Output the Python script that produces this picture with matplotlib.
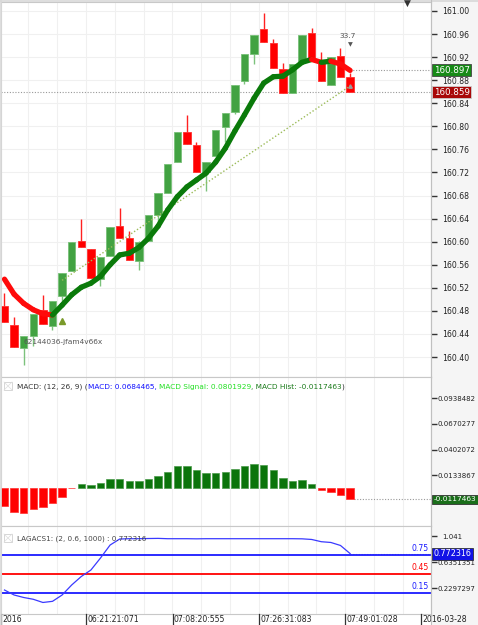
import matplotlib
matplotlib.use("Agg")
import matplotlib.pyplot as plt
import numpy as np
from matplotlib.patches import Rectangle
from matplotlib.lines import Line2D

W, H = 478, 625

# ---- data ----
opens = [160.489, 160.455, 160.415, 160.437, 160.481, 160.454, 160.506, 160.550,
         160.601, 160.587, 160.535, 160.575, 160.627, 160.606, 160.567, 160.602,
         160.646, 160.685, 160.738, 160.791, 160.768, 160.721, 160.749, 160.798,
         160.825, 160.879, 160.925, 160.968, 160.944, 160.899, 160.857, 160.911,
         160.962, 160.915, 160.872, 160.922, 160.885]
closes = [160.460, 160.417, 160.437, 160.474, 160.457, 160.498, 160.545, 160.599,
          160.590, 160.537, 160.574, 160.625, 160.607, 160.568, 160.599, 160.646,
          160.684, 160.734, 160.790, 160.769, 160.721, 160.739, 160.794, 160.823,
          160.872, 160.925, 160.959, 160.946, 160.901, 160.858, 160.908, 160.959,
          160.918, 160.879, 160.921, 160.885, 160.859]
highs = [160.511, 160.469, 160.437, 160.474, 160.508, 160.498, 160.545, 160.599,
         160.640, 160.587, 160.574, 160.625, 160.659, 160.619, 160.601, 160.646,
         160.684, 160.734, 160.790, 160.820, 160.772, 160.739, 160.794, 160.823,
         160.872, 160.925, 160.959, 160.997, 160.951, 160.910, 160.908, 160.959,
         160.971, 160.929, 160.921, 160.935, 160.893]
lows = [160.460, 160.417, 160.386, 160.420, 160.457, 160.447, 160.493, 160.550,
        160.590, 160.537, 160.523, 160.575, 160.607, 160.568, 160.551, 160.602,
        160.633, 160.685, 160.738, 160.769, 160.721, 160.688, 160.749, 160.773,
        160.821, 160.873, 160.908, 160.946, 160.901, 160.858, 160.857, 160.911,
        160.918, 160.879, 160.872, 160.885, 160.859]
ma = [160.535, 160.509, 160.493, 160.482, 160.475, 160.473, 160.490, 160.508,
      160.521, 160.528, 160.540, 160.560, 160.577, 160.580, 160.590, 160.606,
      160.627, 160.655, 160.678, 160.695, 160.707, 160.719, 160.738, 160.762,
      160.792, 160.820, 160.849, 160.875, 160.886, 160.887, 160.898, 160.911,
      160.916, 160.911, 160.913, 160.908, 160.897]
macd_hist = [-0.0187, -0.0246, -0.0257, -0.0215, -0.0201, -0.0152, -0.0090, 0.0,
             0.0043, 0.0032, 0.0053, 0.0092, 0.0099, 0.0074, 0.0074, 0.0099,
             0.0126, 0.0172, 0.0228, 0.0234, 0.0193, 0.0161, 0.0161, 0.0172,
             0.0200, 0.0234, 0.0252, 0.0241, 0.0193, 0.0106, 0.0071, 0.0085,
             0.0043, -0.0020, -0.0038, -0.0076, -0.0117463]
lagacs = [0.202, 0.124, 0.085, 0.057, 0.007, 0.025, 0.124, 0.281, 0.414, 0.515,
          0.703, 0.906, 1.000, 1.005, 1.005, 1.008, 1.010, 1.005, 1.005, 1.005,
          1.003, 1.005, 1.005, 1.005, 1.005, 1.005, 1.005, 1.005, 1.005, 1.005,
          1.005, 1.003, 0.993, 0.958, 0.946, 0.899, 0.772316]
trend_x = [6, 36]
trend_y = [160.533, 160.870]
price_ticks = [160.40, 160.44, 160.48, 160.52, 160.56, 160.60, 160.64, 160.68,
               160.72, 160.76, 160.80, 160.84, 160.88, 160.92, 160.96, 161.00]
macd_ticks = [0.0938482, 0.0670277, 0.0402072, 0.0133867]
lag_ticks = [1.041, 0.6351351, 0.2297297]
lag_levels = [0.75, 0.45, 0.15]
lag_level_colors = ["#1a1aff", "#ff0000", "#1a1aff"]
time_labels = ["2016", "06:21:21:071", "07:08:20:555", "07:26:31:083", "07:49:01:028", "2016-03-28"]
time_pos = [-0.35, 8.5, 17.5, 26.5, 35.5, 43.4]

x = np.arange(len(opens))
xlim = ((1 - 4.5) / 9.6, (431 - 4.5) / 9.6)


def px(xp, yp):
    return xp / W, 1 - yp / H


def box(y0, y1):
    return [1 / W, 1 - y1 / H, 430 / W, (y1 - y0) / H]


fig = plt.figure(figsize=(W / 100, H / 100), dpi=100)
fig.patch.set_facecolor("white")
fig.add_artist(Rectangle(px(431, 625), 47 / W, 1, transform=fig.transFigure,
                         fc="#f5f5f5", ec="none", zorder=0))

ax = fig.add_axes(box(2, 377))
axm = fig.add_axes(box(377, 526))
axl = fig.add_axes(box(526, 614))

grid_x = np.arange(2.5, 44, 3)
for a in (ax, axm, axl):
    a.set_xlim(*xlim)
    a.set_facecolor("white")
    for s in a.spines.values():
        s.set_color("#c8c8c8")
        s.set_linewidth(0.8)
    a.set_xticks([])
    a.yaxis.tick_right()
    a.tick_params(axis="y", length=4, width=1, color="#333333", labelsize=5.0,
                  labelcolor="#222222", pad=0.5)
    for g in grid_x:
        a.axvline(g, color="#f0f0f0", lw=0.8, zorder=0)

# ---- price panel ----
ax.set_ylim(160.3654, 161.0156)
ax.set_yticks(price_ticks)
ax.set_yticklabels(["%.2f" % t for t in price_ticks])
ax.tick_params(axis="y", pad=4, labelsize=5.6)
for t in price_ticks:
    ax.axhline(t, color="#f0f0f0", lw=0.8, zorder=0)

for i in x:
    up = closes[i] >= opens[i]
    body = "#42a242" if up else "#ff0000"
    edge = "#78c078" if up else "#ff3030"
    wick = "#7cc27c" if up else "#ff2020"
    ax.vlines(i, lows[i], highs[i], color=wick, lw=1, zorder=2)
    lo = min(opens[i], closes[i])
    ax.bar(i, abs(closes[i] - opens[i]), bottom=lo, width=0.78, color=body,
           edgecolor=edge, lw=0.6, zorder=3)

ax.plot(trend_x, trend_y, color="#9cbc5a", lw=1, ls=(0, (1, 1.5)), zorder=4)
ax.plot(trend_x[1], trend_y[1], marker="^", color="#9a9a9a", ms=2.5, zorder=5)

for i in range(len(ma) - 1):
    c = "#0a7a0a" if ma[i + 1] >= ma[i] else "#ff0a0a"
    ax.plot([i, i + 1], [ma[i], ma[i + 1]], color=c, lw=3.8,
            solid_capstyle="round", zorder=6)

ax.hlines(closes[-1], xlim[0], xlim[1], color="#999999", lw=0.8, ls=(0, (1, 1.5)), zorder=1)
ax.hlines(ma[-1], len(ma) - 1, xlim[1], color="#999999", lw=0.8, ls=(0, (1, 1.5)), zorder=1)

ytrans = ax.get_yaxis_transform()
ax.text(1.006, ma[-1], "160.897", transform=ytrans, fontsize=6.3, color="white",
        va="center", ha="left", zorder=20, clip_on=False,
        bbox=dict(boxstyle="square,pad=0.18", fc="#168a16", ec="#444444", lw=0.6))
ax.text(1.006, closes[-1], "160.859", transform=ytrans, fontsize=6.3, color="white",
        va="center", ha="left", zorder=20, clip_on=False,
        bbox=dict(boxstyle="square,pad=0.18", fc="#a80808", ec="#cccccc", lw=0.6))

ax.plot(6, 160.462, marker="^", color="#7a9a2a", ms=4, zorder=7)
fig.text(*px(23, 342), "62144036-jfam4v66x", fontsize=5.3, color="#555555",
         va="center", ha="left", zorder=10)
fig.text(*px(348, 35.5), "33.7", fontsize=5.4, color="#555555", va="center", ha="center")
fig.text(*px(350, 44.5), "\u25bc", fontsize=4.5, color="#555555", va="center", ha="center")
fig.text(*px(407, 3), "\u25bc", fontsize=6.5, color="#333333", va="center", ha="center")

# ---- MACD panel ----
axm.set_ylim(-0.0396, 0.1161)
axm.set_yticks(macd_ticks)
axm.set_yticklabels(["%.7f" % t for t in macd_ticks])
hcol = ["#0b740b" if v > 0 else "#ff0000" for v in macd_hist]
hedge = ["#4a9a4a" if v > 0 else "#ff3030" for v in macd_hist]
axm.bar(x, macd_hist, width=0.78, color=hcol, edgecolor=hedge, lw=0.5, zorder=3)
axm.hlines(macd_hist[-1], len(x) - 1 + 0.45, xlim[1], color="#999999", lw=0.8,
           ls=(0, (1, 1.5)), zorder=1)
axm.text(1.006, macd_hist[-1], "-0.0117463", transform=axm.get_yaxis_transform(),
         fontsize=5.3, color="white", va="center", ha="left", zorder=20, clip_on=False,
         bbox=dict(boxstyle="square,pad=0.18", fc="#1a6e1a", ec="#333333", lw=0.6))

# ---- LAGACS panel ----
axl.set_ylim(-0.1733, 1.2038)
axl.set_yticks(lag_ticks)
axl.set_yticklabels(["1.041", "0.6351351", "0.2297297"])
axl.get_yticklabels()[0].set_x(1.012)
for lv, lc in zip(lag_levels, lag_level_colors):
    axl.axhline(lv, color=lc, lw=1.3, zorder=2)
    axl.text(xlim[1] - 0.25, lv + 0.03, "%.2f" % lv, color=lc, fontsize=5.6,
             ha="right", va="bottom", zorder=5)
axl.plot(x, lagacs, color="#3a3aff", lw=0.9, zorder=4)
axl.hlines(lagacs[-1], len(x) - 1, xlim[1], color="#aaaaaa", lw=0.8, ls=(0, (1, 1.5)), zorder=1)
axl.text(1.006, lagacs[-1], "0.772316", transform=axl.get_yaxis_transform(),
         fontsize=5.8, color="white", va="center", ha="left", zorder=20, clip_on=False,
         bbox=dict(boxstyle="square,pad=0.18", fc="#1212e6", ec="#333333", lw=0.6))


# ---- panel titles ----
def checkbox(xp, yp):
    fig.add_artist(Rectangle(px(xp, yp + 8), 8 / W, 8 / H, transform=fig.transFigure,
                             fc="white", ec="#d0d0d0", lw=0.6, zorder=10))
    fig.add_artist(Line2D([xp / W, (xp + 8) / W], [1 - yp / H, 1 - (yp + 8) / H],
                          transform=fig.transFigure, color="#dddddd", lw=0.5, zorder=11))
    fig.add_artist(Line2D([xp / W, (xp + 8) / W], [1 - (yp + 8) / H, 1 - yp / H],
                          transform=fig.transFigure, color="#dddddd", lw=0.5, zorder=11))


def chain(a, xp, yp, parts, size):
    t = fig.text(*px(xp, yp), parts[0][0], color=parts[0][1], fontsize=size,
                 va="center", ha="left", zorder=12)
    for s, c in parts[1:]:
        t = a.annotate(s, xy=(1, 0.5), xycoords=t, color=c, fontsize=size,
                       va="center", ha="left", annotation_clip=False, zorder=12)


checkbox(4, 382)
chain(axm, 17, 386.5, [("MACD: (12, 26, 9) (", "#333333"),
                       ("MACD: 0.0684465, ", "#1010ff"),
                       ("MACD Signal: 0.0801929", "#22e022"),
                       (", MACD Hist: -0.0117463", "#1a7a1a"),
                       (")", "#333333")], 5.3)
checkbox(4, 534)
fig.text(*px(17, 538.5), "LAGACS1: (2, 0.6, 1000) : 0.772316", fontsize=5.2,
         color="#444444", va="center", ha="left", zorder=12)

# ---- time axis ----
for lab, p in zip(time_labels, time_pos):
    xp = 4.5 + 9.6 * p
    fig.add_artist(Line2D([xp / W, xp / W], [1 - 614 / H, 0], transform=fig.transFigure,
                          color="#333333", lw=0.9))
    fig.text(*px(xp + 1.5, 620), lab, fontsize=5.6, color="#222222",
             va="center", ha="left")

fig.add_artist(Line2D([431 / W, 431 / W], [0, 1], transform=fig.transFigure,
                      color="#c0c0c0", lw=0.8, zorder=15))
fig.add_artist(Line2D([0, 1], [1 - 0.5 / H, 1 - 0.5 / H], transform=fig.transFigure,
                      color="#d8d8d8", lw=1.2))
fig.add_artist(Line2D([0.5 / W, 0.5 / W], [0, 1], transform=fig.transFigure,
                      color="#d8d8d8", lw=1.2))

fig.savefig("out.png", dpi=100)
